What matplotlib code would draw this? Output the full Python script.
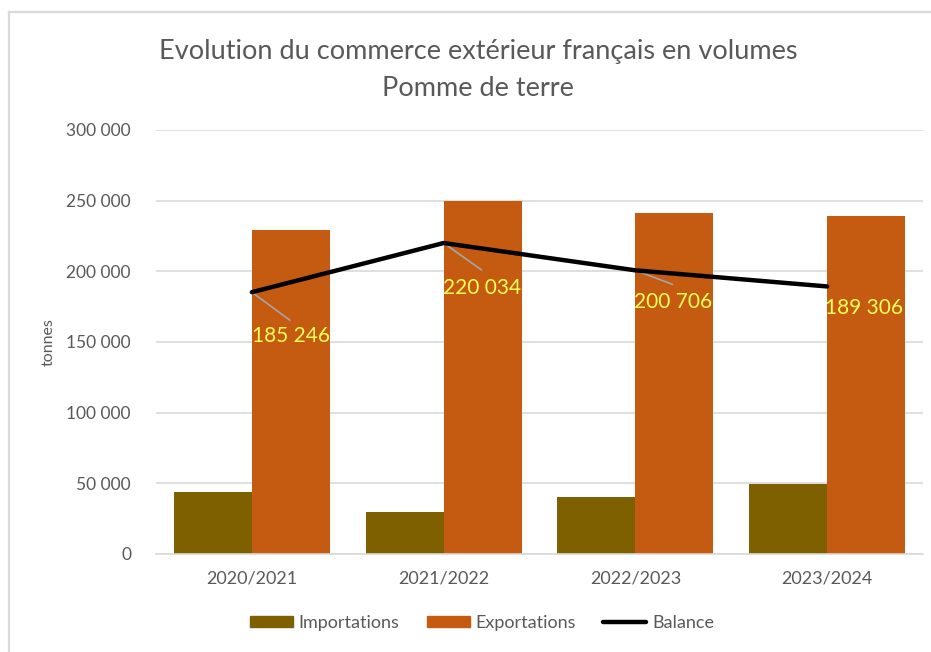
import matplotlib
matplotlib.use("Agg")
import matplotlib.pyplot as plt
from matplotlib.patches import Patch
from matplotlib.lines import Line2D
import numpy as np

categories = ["2020/2021", "2021/2022", "2022/2023", "2023/2024"]
importations = [43900, 29800, 40300, 49600]
exportations = [229150, 249834, 241006, 238906]
balance = [185246, 220034, 200706, 189306]
balance_labels = ["185 246", "220 034", "200 706", "189 306"]
yticks = [0, 50000, 100000, 150000, 200000, 250000, 300000]
ytick_labels = ["0", "50 000", "100 000", "150 000", "200 000", "250 000", "300 000"]

# label offsets in pixels (dx, dy); leader line end offsets (None = no leader)
label_offsets = [(39, -44), (38, -45), (38, -32), (37, -22)]
leader_ends = [(38, -28), (38, -27), (37, -14), None]

FONT = ["Lato", "DejaVu Sans"]
plt.rcParams["font.family"] = FONT
TXT = "#595959"
C_IMP = "#7F6000"
C_EXP = "#C55A11"

W, H = 931, 652
fig = plt.figure(figsize=(W / 100, H / 100), dpi=100)
fig.patch.set_facecolor("white")

# frame (partially cropped)
fig.add_artist(Line2D([8.5 / W, 8.5 / W], [0, 1 - 11.5 / H], color="#D9D9D9", lw=1.6,
                      transform=fig.transFigure))
fig.add_artist(Line2D([8.5 / W, 1], [1 - 11.5 / H, 1 - 11.5 / H], color="#D9D9D9", lw=1.6,
                      transform=fig.transFigure))

ax = fig.add_axes([156 / W, (H - 554) / H, 767 / W, 424 / H])
x = np.arange(len(categories))
bw = 0.407
ax.bar(x - bw / 2, importations, width=bw, color=C_IMP, zorder=2)
ax.bar(x + bw / 2, exportations, width=bw, color=C_EXP, zorder=2)
ax.plot(x, balance, color="black", lw=3.2, solid_capstyle="round", solid_joinstyle="round", zorder=4)

for i in range(len(x)):
    if leader_ends[i] is not None:
        ax.annotate("", xy=(x[i], balance[i]), xytext=leader_ends[i], textcoords="offset pixels",
                    arrowprops=dict(arrowstyle="-", color="#A6A6A6", lw=1.2, shrinkA=0, shrinkB=0),
                    zorder=3)
    ax.annotate(balance_labels[i], xy=(x[i], balance[i]), xytext=label_offsets[i],
                textcoords="offset pixels", ha="center", va="center",
                color="#FFFF5A", fontsize=15, zorder=5)

ax.set_xlim(-0.5, len(categories) - 0.5)
ax.set_ylim(0, 300000)
ax.set_yticks(yticks)
ax.set_yticklabels(ytick_labels)
ax.set_xticks(x)
ax.set_xticklabels(categories)
ax.grid(axis="y", color="#D9D9D9", lw=1.2, zorder=0)
ax.set_axisbelow(True)
for s in ["top", "right", "left"]:
    ax.spines[s].set_visible(False)
ax.spines["bottom"].set_color("#D9D9D9")
ax.spines["bottom"].set_linewidth(1.2)
ax.tick_params(axis="both", length=0, colors=TXT)
ax.tick_params(axis="y", pad=18, labelsize=12.5)
ax.tick_params(axis="x", pad=12, labelsize=13)
ax.set_ylabel("tonnes", color=TXT, fontsize=11.5)
ax.yaxis.set_label_coords(-(156 - 56) / 767, 0.5)

fig.text(478 / W, 1 - 52 / H, "Evolution du commerce extérieur français en volumes",
         ha="center", va="center", fontsize=19.5, color=TXT)
fig.text(478 / W, 1 - 88 / H, "Pomme de terre", ha="center", va="center", fontsize=19.5, color=TXT)

handles = [Patch(color=C_IMP, label="Importations"),
           Patch(color=C_EXP, label="Exportations"),
           Line2D([0], [0], color="black", lw=3.2, solid_capstyle="round", label="Balance")]
fig.legend(handles=handles, loc="center", bbox_to_anchor=(482 / W, 29 / H), ncol=3,
           frameon=False, fontsize=13, labelcolor=TXT, handlelength=2.4, handleheight=0.6,
           handletextpad=0.3, columnspacing=1.5)

fig.savefig("out.png", dpi=100)
